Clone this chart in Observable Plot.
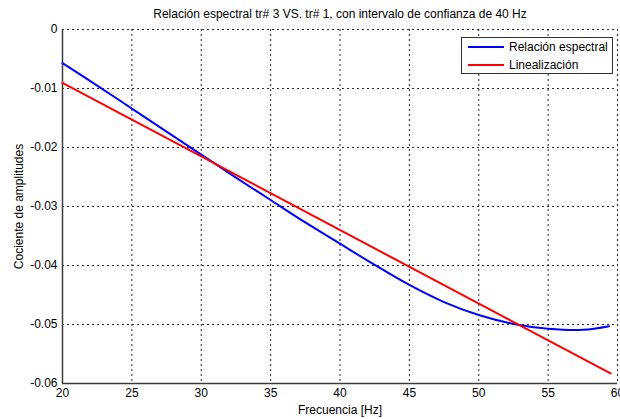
<!DOCTYPE html>
<html><head><meta charset="utf-8">
<script src="https://cdn.jsdelivr.net/npm/d3@7"></script>
<script src="https://cdn.jsdelivr.net/npm/@observablehq/plot@0.6"></script>
<style>
body{margin:0;background:#fff;font-family:"Liberation Sans",Arial,sans-serif;}
#wrap{position:relative;width:620px;height:419px;}
#legend{position:absolute;left:461px;top:37px;width:150px;height:35px;border:1px solid #333;background:#fff;font-size:12px;}
.li{position:absolute;left:6px;height:16px;display:flex;align-items:center;}
.sw{width:36px;height:2px;margin-right:5px;}
</style></head>
<body><div id="wrap"><div id="legend"></div></div>
<script>
const title = "Relación espectral tr# 3 VS. tr# 1, con intervalo de confianza de 40 Hz";
const xLabel = "Frecuencia [Hz]";
const yLabel = "Cociente de amplitudes";
const xTicks = [20,25,30,35,40,45,50,55,60];
const yTicks = [0,-0.01,-0.02,-0.03,-0.04,-0.05,-0.06];
const seriesNames = ["Relación espectral","Linealización"];
const seriesColors = ["#0000ff","#ff0000"];
const blueX = [20,22.5,25,27.5,30,32.5,35,37.5,40,42.5,45,47.5,50,52.5,55,57.5,59.4];
const blueY = [-0.0057,-0.0095,-0.0134,-0.0173,-0.0212,-0.0251,-0.0289,-0.0327,-0.0363,-0.0399,-0.0433,-0.0462,-0.0484,-0.0499,-0.0507,-0.0509,-0.0503];
const redX = [20,59.5];
const redY = [-0.00905,-0.0583];

const blue = blueX.map((x,i)=>({x,y:blueY[i]}));
const red = redX.map((x,i)=>({x,y:redY[i]}));
const fmt = d => d===0 ? "0" : String(d);

const chart = Plot.plot({
  width:620, height:419,
  marginLeft:62, marginRight:3, marginTop:29, marginBottom:36,
  style:{fontFamily:"Liberation Sans, Arial, sans-serif", fontSize:"12px", color:"#000", background:"#fff"},
  x:{domain:[20,60]},
  y:{domain:[-0.06,0]},
  marks:[
    Plot.gridX(xTicks,{stroke:"#000",strokeOpacity:0.85,strokeDasharray:"2,3"}),
    Plot.gridY(yTicks,{stroke:"#000",strokeOpacity:0.85,strokeDasharray:"2,3"}),
    Plot.ruleX([20],{stroke:"#3c3c3c",strokeWidth:1.5}),
    Plot.ruleY([-0.06],{stroke:"#3c3c3c",strokeWidth:1.5}),
    Plot.axisX(xTicks,{tickSize:0,tickPadding:5,label:xLabel,labelAnchor:"center",labelArrow:"none",labelOffset:30,fontSize:12}),
    Plot.axisY(yTicks,{tickSize:0,tickPadding:5,tickFormat:fmt,label:yLabel,labelAnchor:"center",labelArrow:"none",labelOffset:48,fontSize:12}),
    Plot.line(blue,{x:"x",y:"y",stroke:seriesColors[0],strokeWidth:2,curve:"catmull-rom"}),
    Plot.line(red,{x:"x",y:"y",stroke:seriesColors[1],strokeWidth:2}),
    Plot.text([title],{frameAnchor:"top",dy:-20,fontSize:12,fill:"#000"})
  ]
});
document.getElementById("wrap").prepend(chart);
const lg = document.getElementById("legend");
seriesNames.forEach((n,i)=>{
  const d=document.createElement("div");d.className="li";d.style.top=(i*18+1)+"px";
  d.innerHTML=`<span class="sw" style="background:${seriesColors[i]}"></span><span>${n}</span>`;
  lg.appendChild(d);
});
</script></body></html>
